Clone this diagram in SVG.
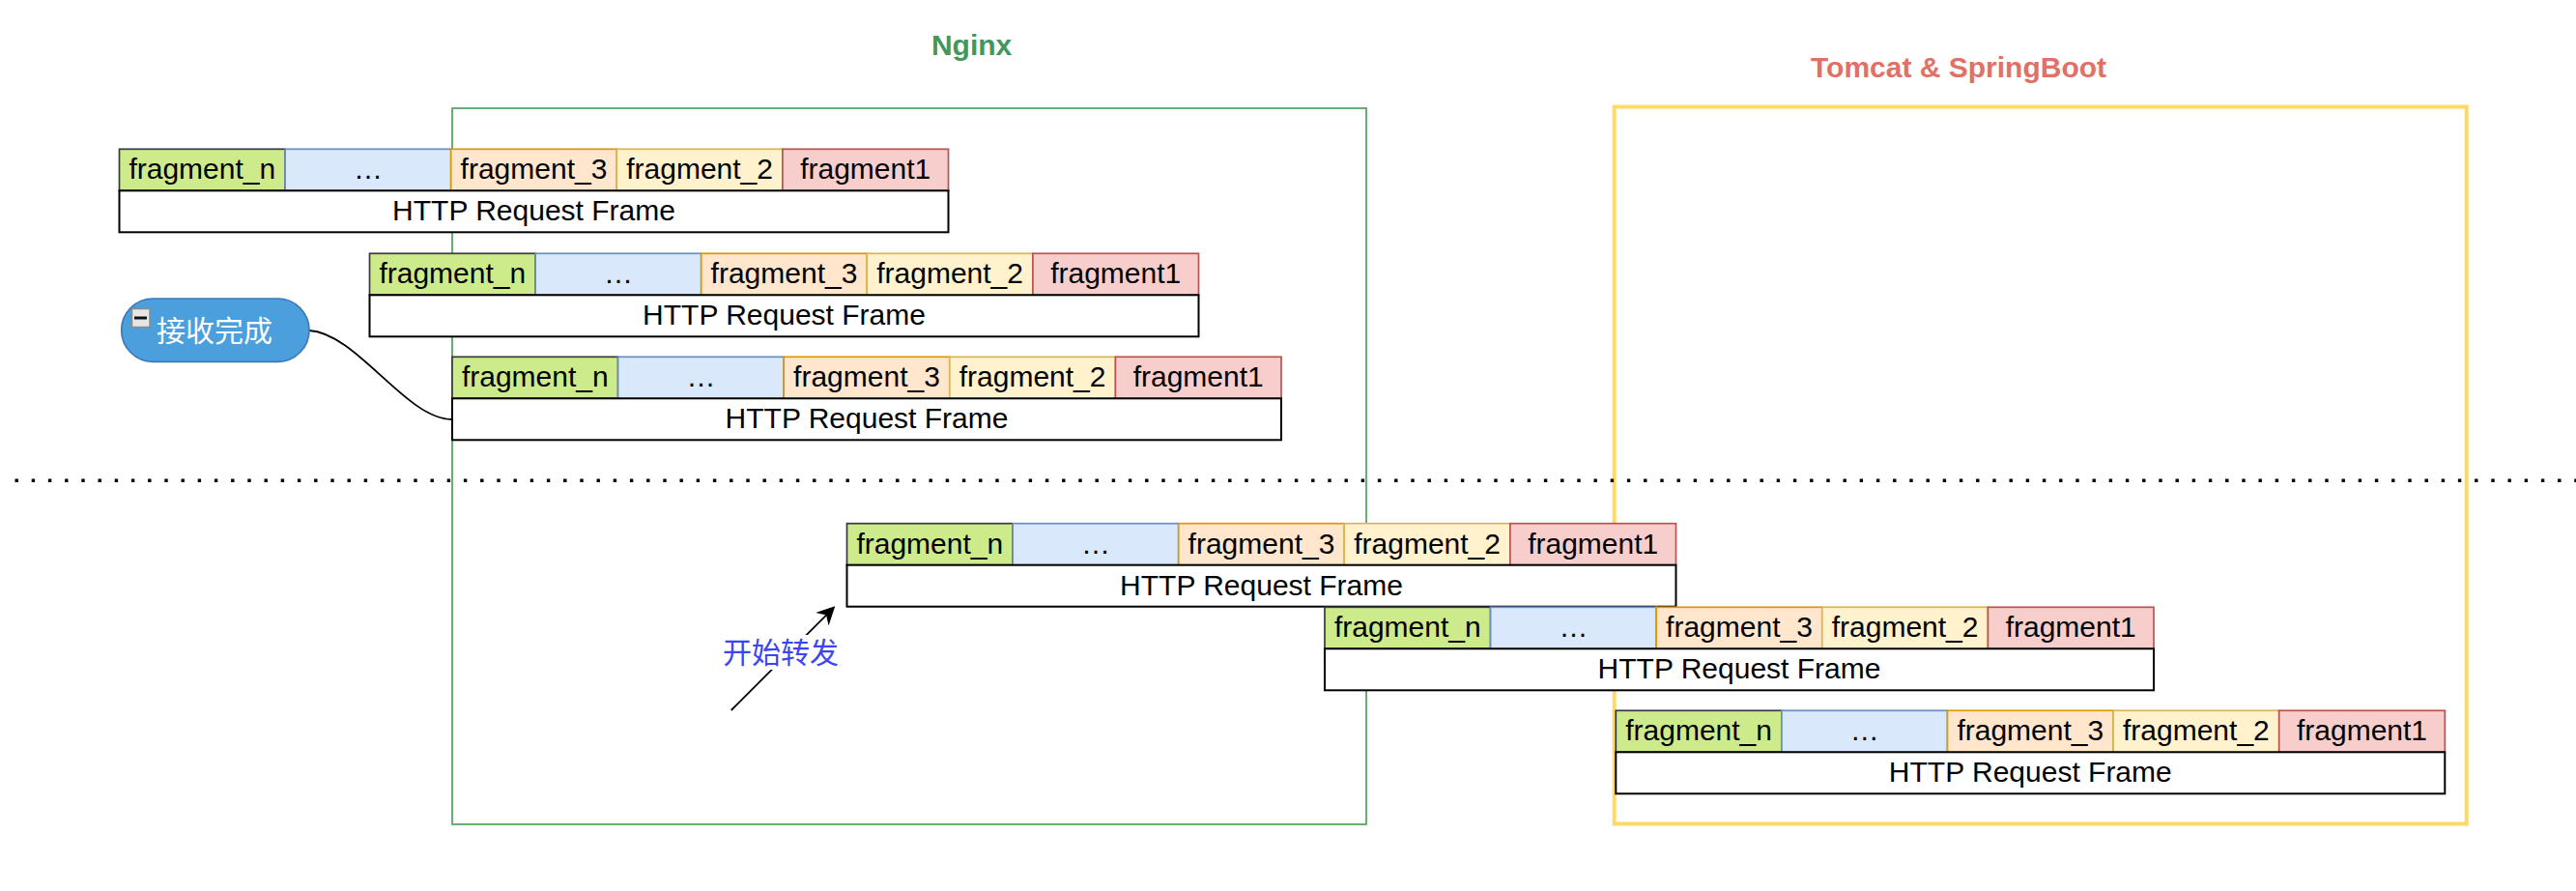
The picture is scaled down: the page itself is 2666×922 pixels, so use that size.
<svg xmlns="http://www.w3.org/2000/svg" width="2666" height="922" viewBox="0 0 2666 922">
<style>
.t{font-family:"Liberation Sans",Arial,Helvetica,sans-serif;font-size:30px;text-anchor:middle;fill:#000}
.cjk{font-family:"Noto Sans CJK SC","Liberation Sans",sans-serif;font-size:30px}
.c1{fill:#cdeb8b;stroke:#36393d;stroke-width:1.7}
.c2{fill:#dae8fc;stroke:#6c8ebf;stroke-width:1.7}
.c3{fill:#ffe6cc;stroke:#d79b00;stroke-width:1.7}
.c4{fill:#fff2cc;stroke:#d6b656;stroke-width:1.7}
.c5{fill:#f8cecc;stroke:#b85450;stroke-width:1.7}
.hf{fill:#fff;stroke:#000;stroke-width:2}
.title{font-family:"Liberation Sans",Arial,Helvetica,sans-serif;font-size:30px;font-weight:bold;text-anchor:middle}
</style>
<defs>
<marker id="arr" viewBox="0 0 20 20" refX="7" refY="10" markerWidth="20" markerHeight="20" markerUnits="userSpaceOnUse" orient="auto">
<path d="M0,0.5 L19,10 L0,19.5 L6,10 Z" fill="#000"/>
</marker>
<g id="frame">
<rect class="c1" x="0" y="0" width="171.6" height="43"/>
<rect class="c2" x="171.6" y="0" width="171.6" height="43"/>
<rect class="c3" x="343.2" y="0" width="171.6" height="43"/>
<rect class="c4" x="514.8" y="0" width="171.6" height="43"/>
<rect class="c5" x="686.4" y="0" width="171.6" height="43"/>
<rect class="hf" x="0" y="43" width="858" height="43"/>
<text class="t" x="85.8" y="31">fragment_n</text>
<text class="t" x="257.4" y="31">…</text>
<text class="t" x="429" y="31">fragment_3</text>
<text class="t" x="600.6" y="31">fragment_2</text>
<text class="t" x="772.2" y="31">fragment1</text>
<text class="t" x="429" y="74">HTTP Request Frame</text>
</g>
</defs>
<rect width="2666" height="922" fill="#fff"/>

<g id="nginx">
<rect x="468" y="112" width="946" height="741" fill="none" stroke="#58a765" stroke-width="1.8"/>
<text class="title" x="1005.6" y="57" fill="#40995a">Nginx</text>
</g>
<g id="tomcat">
<rect x="1670.7" y="110.5" width="882" height="742" fill="none" stroke="#ffd966" stroke-width="4"/>
<text class="title" x="2027" y="80" fill="#e07068">Tomcat &amp; SpringBoot</text>
</g>

<g id="divider">
<line x1="15.5" y1="497.3" x2="2666" y2="497.3" stroke="#000" stroke-width="3.4" stroke-dasharray="3.4 13.8"/>
</g>

<g id="connectors">
<path d="M320,342 C370,345 420,434 468,434" fill="none" stroke="#000" stroke-width="1.8"/>
<line x1="756.7" y1="735" x2="855.8" y2="635.8" stroke="#000" stroke-width="1.8" marker-end="url(#arr)"/>
</g>

<g id="frame1"><use href="#frame" transform="translate(123.5,154.3)"/></g>
<g id="frame2"><use href="#frame" transform="translate(382.5,262.3)"/></g>
<g id="frame3"><use href="#frame" transform="translate(468,369.3)"/></g>
<g id="frame4"><use href="#frame" transform="translate(876.5,541.7)"/></g>
<g id="frame5"><use href="#frame" transform="translate(1371,628.3)"/></g>
<g id="frame6"><use href="#frame" transform="translate(1672.3,735.3)"/></g>

<g id="bubble">
<rect x="125.7" y="309" width="194.3" height="65.3" rx="32.6" ry="32.6" fill="#4a9fdc" stroke="#3b7ab8" stroke-width="1.7"/>
<rect x="136.5" y="319.5" width="18.5" height="19" fill="#e6e6e6" stroke="#8a8a8a" stroke-width="1.5"/>
<rect x="139" y="327.5" width="13" height="3" fill="#111"/>
<text class="cjk" x="162" y="352.5" fill="#fff">接收完成</text>
</g>

<g id="label-forward">
<rect x="746" y="657" width="124" height="36" fill="#fff"/>
<text class="cjk" x="808" y="686" fill="#3a45f5" text-anchor="middle">开始转发</text>
</g>
</svg>
